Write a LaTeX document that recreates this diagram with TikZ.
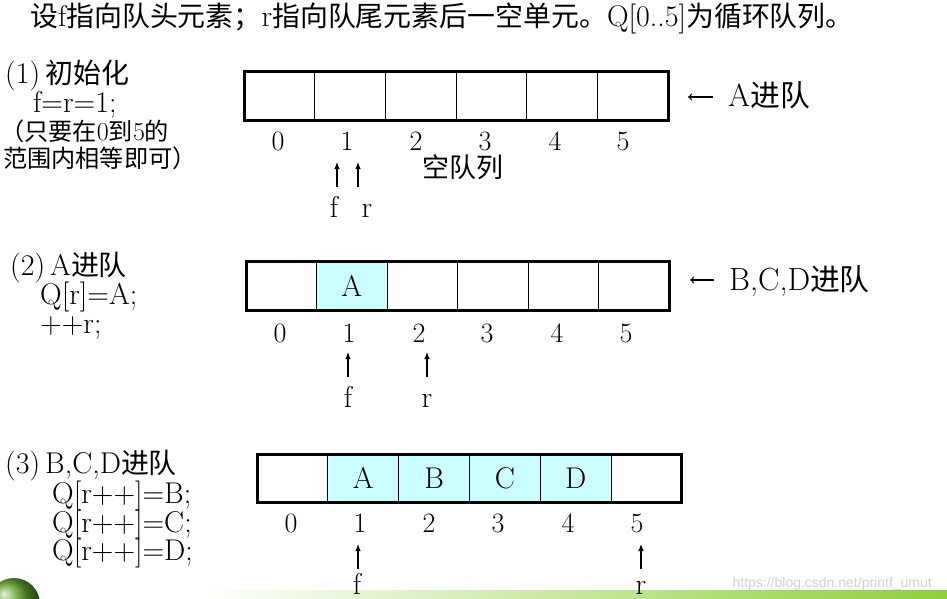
\documentclass[tikz,border=0pt]{standalone}
\usepackage{fontspec}
\newfontfamily\cjk[Scale=0.93]{Noto Sans CJK SC}
\newfontfamily\wmfont{Liberation Sans}
\usetikzlibrary{arrows.meta}
\definecolor{qfill}{HTML}{CCFFFF}
\definecolor{barg}{HTML}{8CCF3A}
\definecolor{blobg}{HTML}{5FA52A}
\newcommand\myfs[1]{\fontsize{#1}{#1}\selectfont}
\newcommand\zh[1]{{\cjk #1}}
\begin{document}
\begin{tikzpicture}[x=1pt,y=-1pt,
  cellA/.style={draw, line width=0.9pt, minimum width=70.67pt, minimum height=49pt, inner sep=0pt, outer sep=0pt, font=\myfs{30}},
  cellB/.style={cellA, minimum width=70.5pt},
  cellC/.style={cellA, minimum width=70.83pt, minimum height=48pt},
  full/.style={fill=qfill},
  outerbox/.style={line width=3pt},
  idx/.style={font=\myfs{28}, inner sep=0pt, anchor=base},
  ptrlbl/.style={font=\myfs{30}, inner sep=0pt, anchor=base},
  ptr/.style={line width=1.1pt, -{Latex[length=7pt,width=5.5pt]}},
  inarrow/.style={line width=1.1pt, -{To[length=4pt,width=7pt]}},
  txt/.style={inner sep=0pt, anchor=base west, font=\myfs{30}},
  small/.style={txt, font=\myfs{26}},
  side/.style={txt, font=\myfs{32}}
]
\path[use as bounding box] (0,0) rectangle (947,599);

% decoration at the bottom
\begin{scope}
\clip (0,0) rectangle (947,599);
\shade[left color=white, right color=barg] (200,590) rectangle (947,599);
\shade[ball color=blobg] (14,604) circle (26);
\end{scope}
\node[inner sep=0pt, anchor=base east, font=\wmfont\myfs{14}, text=black!18] (wm) at (932,587) {https://blog.csdn.net/printf\_umut};

% title
\node[txt, font=\myfs{30}] (title) at (30,27) {\zh{设}f\zh{指向队头元素；}r\zh{指向队尾元素后一空单元。}Q[0..5]\zh{为循环队列。}};

% ---------- (1)
\node[txt] (h1) at (5,84) {(1)\,\zh{初始化}};
\node[txt] (h1a) at (33,113) {f=r=1;};
\node[small] (h1b) at (0,140) {\zh{（只要在}0\zh{到}5\zh{的}};
\node[small] (h1c) at (3,167) {\zh{范围内相等即可）}};

\foreach \i in {0,...,5}
  \node[cellA] (a\i) at ({244+70.67*(\i+0.5)},96.5) {};
\draw[outerbox] (a0.north west) rectangle (a5.south east);

\foreach \i/\x in {0/278,1/347,2/416,3/485,4/555,5/623}
  \node[idx] (ai\i) at (\x,150) {\i};
\node[inner sep=0pt, anchor=base, font=\myfs{29}\cjk] (empty) at (463,177) {空队列};

\coordinate (af0) at (337,187); \coordinate (af1) at (337,162);
\coordinate (ar0) at (358,187); \coordinate (ar1) at (358,162);
\draw[ptr] (af0) -- (af1);
\draw[ptr] (ar0) -- (ar1);
\node[ptrlbl] (af) at (334,217) {f};
\node[ptrlbl] (ar) at (367,217) {r};

\coordinate (ina0) at (713,97); \coordinate (ina1) at (688,97);
\draw[inarrow] (ina0) -- (ina1);
\node[side] (ina) at (728,107) {A\zh{进队}};

% ---------- (2)
\node[txt] (h2) at (10,275) {(2)\,A\zh{进队}};
\node[txt] (h2a) at (40,304) {Q[r]=A;};
\node[txt] (h2b) at (40,333) {++r;};

\foreach \i in {0,...,5}
  \node[cellB] (b\i) at ({246+70.5*(\i+0.5)},285.5) {};
\node[cellB, full] (b1) at ({246+70.5*1.5},285.5) {A};
\draw[outerbox] (b0.north west) rectangle (b5.south east);

\foreach \i/\x in {0/280,1/349,2/419,3/487,4/557,5/626}
  \node[idx] (bi\i) at (\x,342) {\i};

\coordinate (bf0) at (348,377); \coordinate (bf1) at (348,352);
\coordinate (br0) at (427,377); \coordinate (br1) at (427,352);
\draw[ptr] (bf0) -- (bf1);
\draw[ptr] (br0) -- (br1);
\node[ptrlbl] (bf) at (348,407) {f};
\node[ptrlbl] (br) at (427,407) {r};

\coordinate (inb0) at (714,280); \coordinate (inb1) at (690,280);
\draw[inarrow] (inb0) -- (inb1);
\node[side] (inb) at (729,290) {B,C,D\zh{进队}};

% ---------- (3)
\node[txt] (h3) at (5,473) {(3)\,B,C,D\zh{进队}};
\node[txt] (h3a) at (52,503) {Q[r++]=B;};
\node[txt] (h3b) at (52,532) {Q[r++]=C;};
\node[txt] (h3c) at (52,560) {Q[r++]=D;};

\foreach \i in {0,...,5}
  \node[cellC] (c\i) at ({257+70.83*(\i+0.5)},478) {};
\foreach \i/\t in {1/A,2/B,3/C,4/D}
  \node[cellC, full] (c\i) at ({257+70.83*(\i+0.5)},478) {\t};
\draw[outerbox] (c0.north west) rectangle (c5.south east);

\foreach \i/\x in {0/291,1/360,2/429,3/498,4/568,5/637}
  \node[idx] (ci\i) at (\x,532) {\i};

\coordinate (cf0) at (358,569); \coordinate (cf1) at (358,544);
\coordinate (cr0) at (641,569); \coordinate (cr1) at (641,544);
\draw[ptr] (cf0) -- (cf1);
\draw[ptr] (cr0) -- (cr1);
\node[ptrlbl] (cf) at (357,594) {f};
\node[ptrlbl] (cr) at (641,594) {r};
\end{tikzpicture}
\end{document}
